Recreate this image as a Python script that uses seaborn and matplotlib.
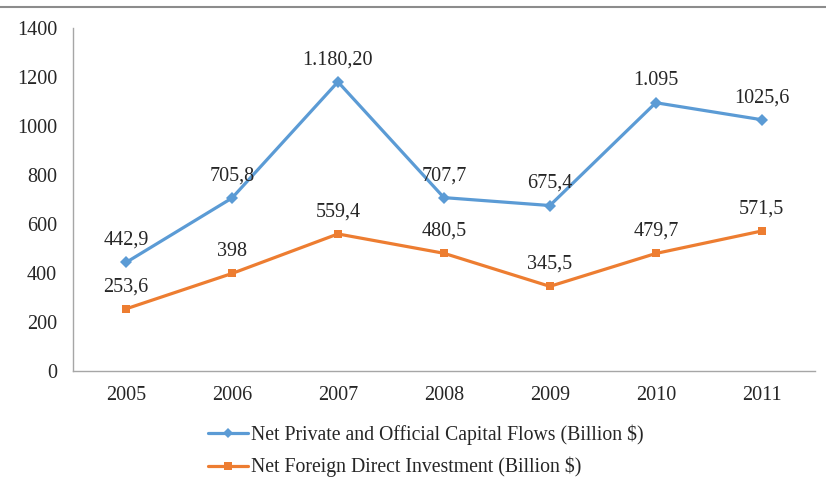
import matplotlib
matplotlib.use("Agg")
import matplotlib.pyplot as plt
import pandas as pd
import seaborn as sns
from matplotlib.lines import Line2D

years = ["2005", "2006", "2007", "2008", "2009", "2010", "2011"]
capital_flows = [442.9, 705.8, 1180.2, 707.7, 675.4, 1095.0, 1025.6]
fdi = [253.6, 398.0, 559.4, 480.5, 345.5, 479.7, 571.5]
capital_labels = ["442,9", "705,8", "1.180,20", "707,7", "675,4", "1.095", "1025,6"]
fdi_labels = ["253,6", "398", "559,4", "480,5", "345,5", "479,7", "571,5"]
y_ticks = [0, 200, 400, 600, 800, 1000, 1200, 1400]

name_cap = "Net Private and Official Capital Flows (Billion $)"
name_fdi = "Net Foreign Direct Investment (Billion $)"

sns.set_theme(style="white")
plt.rcParams["font.family"] = ["Liberation Serif", "DejaVu Serif"]

df = pd.DataFrame({
    "year": years * 2,
    "value": capital_flows + fdi,
    "series": [name_cap] * len(years) + [name_fdi] * len(years),
})

blue = "#5B9BD5"
orange = "#ED7D31"

fig = plt.figure(figsize=(8.26, 4.87), dpi=100)
ax = fig.add_axes([0.0884, 0.2382, 0.898, 0.7043])

sns.lineplot(data=df, x="year", y="value", hue="series", style="series",
             palette={name_cap: blue, name_fdi: orange},
             markers={name_cap: "D", name_fdi: "s"}, dashes=False,
             markersize=6, markeredgewidth=0, linewidth=2.3, ax=ax, legend=False)

for i, (v, lab) in enumerate(zip(capital_flows, capital_labels)):
    ax.annotate(lab, (i, v), xytext=(0, 9), textcoords="offset points",
                ha="center", va="bottom", fontsize=14.5)
for i, (v, lab) in enumerate(zip(fdi, fdi_labels)):
    ax.annotate(lab, (i, v), xytext=(0, 9), textcoords="offset points",
                ha="center", va="bottom", fontsize=14.5)

ax.set_xlim(-0.5, len(years) - 0.5)
ax.set_ylim(0, 1400)
ax.set_yticks(y_ticks)
ax.set_xlabel("")
ax.set_ylabel("")
ax.tick_params(axis="both", length=0, labelsize=14.5)
ax.tick_params(axis="x", pad=11)
ax.tick_params(axis="y", pad=11.5)
for side in ["top", "right"]:
    ax.spines[side].set_visible(False)
for side in ["left", "bottom"]:
    ax.spines[side].set_color("#A6A6A6")
    ax.spines[side].set_linewidth(1.0)

handles = [
    Line2D([], [], color=blue, marker="D", markersize=5, linewidth=2.3, markeredgewidth=0),
    Line2D([], [], color=orange, marker="s", markersize=6, linewidth=2.3, markeredgewidth=0),
]
fig.legend(handles, [name_cap, name_fdi], loc="upper left",
           bbox_to_anchor=(0.252, 0.128), frameon=False, fontsize=14.2,
           handlelength=2.0, handletextpad=0.15, labelspacing=0.6,
           borderaxespad=0, borderpad=0)

fig.add_artist(Line2D([0, 1], [1 - 7 / 487, 1 - 7 / 487], transform=fig.transFigure,
                      color="#8C8C8C", linewidth=1.5))

fig.savefig("out.png", dpi=100)
